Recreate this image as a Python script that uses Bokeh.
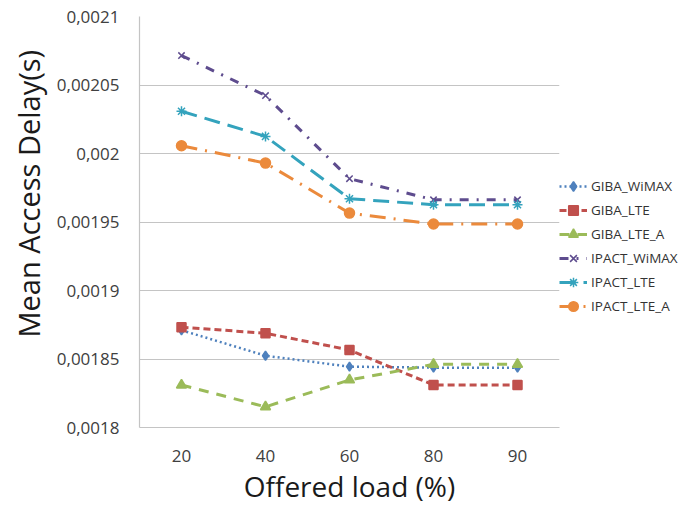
from bokeh.plotting import figure
from bokeh.models import FactorRange, Range1d, FixedTicker, Legend, Title
from bokeh.embed import file_html
from bokeh.resources import INLINE

loads = ["20", "40", "60", "80", "90"]

giba_wimax = [0.001871, 0.0018524, 0.0018444, 0.0018437, 0.0018437]
giba_lte = [0.0018732, 0.0018688, 0.0018566, 0.001831, 0.001831]
giba_lte_a = [0.001831, 0.0018151, 0.0018347, 0.0018461, 0.0018461]
ipact_wimax = [0.0020715, 0.0020423, 0.0019816, 0.0019662, 0.0019662]
ipact_lte = [0.0020308, 0.0020125, 0.001967, 0.0019626, 0.0019626]
ipact_lte_a = [0.0020057, 0.001993, 0.0019565, 0.0019485, 0.0019485]

y_ticks = [0.0018, 0.00185, 0.0019, 0.00195, 0.002, 0.00205, 0.0021]
y_tick_labels = ["0,0018", "0,00185", "0,0019", "0,00195", "0,002", "0,00205", "0,0021"]

FONT = "Open Sans"

p = figure(frame_width=420, frame_height=411, output_backend="svg", toolbar_location=None,
           x_range=FactorRange(*loads, range_padding=0),
           y_range=Range1d(0.0018, 0.0021),
           min_border_left=138, min_border_right=137, min_border_top=16, min_border_bottom=80)
p.outline_line_color = None
p.xgrid.grid_line_color = None
p.ygrid.grid_line_color = "#c4c4c4"
p.ygrid.grid_line_width = 1.2

p.yaxis.ticker = FixedTicker(ticks=y_ticks)
p.yaxis.major_label_overrides = {t: l for t, l in zip(y_ticks, y_tick_labels)}
for ax in (p.xaxis[0], p.yaxis[0]):
    ax.axis_line_color = "#c4c4c4"
    ax.axis_line_width = 1.2
    ax.major_tick_line_color = None
    ax.minor_tick_line_color = None
    ax.major_tick_out = 0
    ax.major_tick_in = 0
    ax.major_label_text_font = FONT
    ax.major_label_text_font_size = "17px"
    ax.major_label_text_color = "#404040"
p.yaxis.major_label_standoff = 20
p.xaxis.major_label_standoff = 22
p.xaxis.axis_label = "Offered load (%)"
p.xaxis.axis_label_text_font = FONT
p.xaxis.axis_label_text_font_size = "28px"
p.xaxis.axis_label_text_font_style = "normal"
p.xaxis.axis_label_text_color = "#1a1a1a"
p.xaxis.axis_label_standoff = 2

ytitle = Title(text="Mean Access Delay(s)", align="left", offset=90, standoff=12,
               text_font=FONT, text_font_size="29px", text_font_style="normal",
               text_color="#1a1a1a")
p.add_layout(ytitle, "left")

series = [
    ("GIBA_WiMAX", giba_wimax, "#4F81BD", "2 3", 2.5, "diamond", 9),
    ("GIBA_LTE", giba_lte, "#C0504D", "7 4", 3, "square", 9),
    ("GIBA_LTE_A", giba_lte_a, "#9BBB59", "10 8", 3, "triangle", 10),
    ("IPACT_WiMAX", ipact_wimax, "#5E4C8E", "9 8 2 8", 3, "x", 9),
    ("IPACT_LTE", ipact_lte, "#34A3BD", "16 8", 3, "asterisk", 10),
    ("IPACT_LTE_A", ipact_lte_a, "#EB8A3C", "16 8 2 8", 3, "circle", 10),
]

items = []
for name, ys, col, dash, lw, mk, sz in series:
    r1 = p.line(loads, ys, line_color=col, line_dash=dash, line_width=lw)
    r2 = p.scatter(loads, ys, marker=mk, size=sz, fill_color=col, line_color=col, line_width=1.5)
    items.append((name, [r1, r2]))

legend = Legend(items=items, location="top_left", padding=17, margin=0, spacing=0,
                title=" ", title_text_font_size="12px", title_standoff=144,
                glyph_width=28, glyph_height=24, label_height=24, label_standoff=4,
                border_line_color=None, background_fill_alpha=0,
                label_text_font=FONT, label_text_font_size="13.5px", label_text_color="#333333")
p.add_layout(legend, "right")

open("out.html", "w").write(file_html(p, INLINE))
